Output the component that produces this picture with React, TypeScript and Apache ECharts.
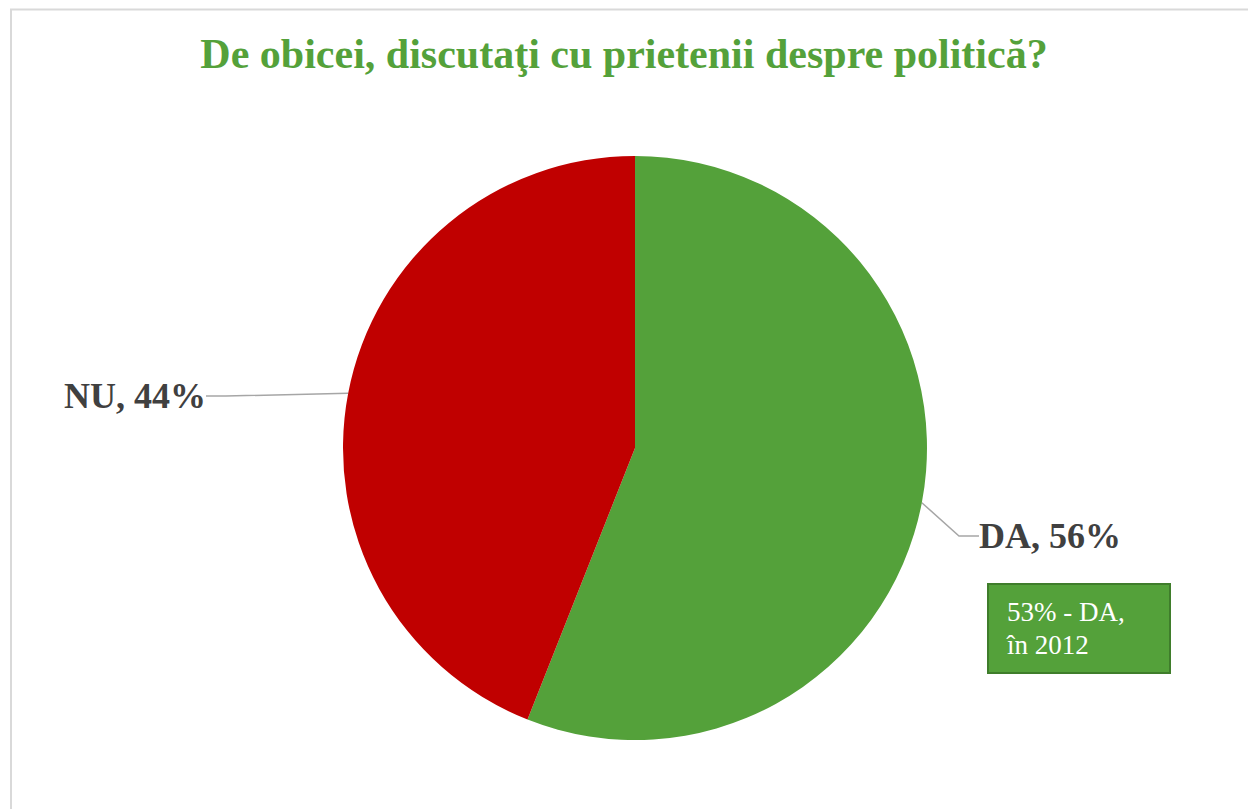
import React, { useEffect, useRef } from "react";
import * as echarts from "echarts";

const titleText = "De obicei, discutaţi cu prietenii despre politică?";
const categories = ["DA", "NU"];
const values = [56, 44];
const colors = ["#54A13A", "#C00000"];
const noteLines = ["53% - DA,", "în 2012"];

export default function App() {
  const ref = useRef<HTMLDivElement>(null);
  useEffect(() => {
    if (!ref.current) return;
    const chart = echarts.init(ref.current, null, { renderer: "svg" });
    const labelPos: Record<string, any> = {
      DA: { x: 979, y: 536, align: "left", verticalAlign: "middle" },
      NU: { x: 206, y: 396, align: "right", verticalAlign: "middle" },
    };
    chart.setOption({
      animation: false,
      backgroundColor: "#ffffff",
      title: {
        text: titleText,
        left: "center",
        top: 28,
        textStyle: {
          fontFamily: "Liberation Serif",
          fontWeight: "bold",
          fontSize: 42,
          color: "#54A13A",
        },
      },
      graphic: [
        {
          type: "rect",
          shape: { x: 11, y: 9.5, width: 1400, height: 1000 },
          style: { fill: "none", stroke: "#D9D9D9", lineWidth: 2 },
          silent: true,
        },
        {
          type: "group",
          children: [
            {
              type: "rect",
              shape: { x: 988, y: 584, width: 182, height: 89 },
              style: { fill: "#54A13A", stroke: "#3F7D2B", lineWidth: 2 },
            },
            {
              type: "text",
              x: 1007,
              y: 595,
              style: {
                text: noteLines.join("\n"),
                fill: "#ffffff",
                font: "27px 'Liberation Serif'",
                lineHeight: 33,
              },
            },
          ],
        },
      ],
      series: [
        {
          type: "pie",
          center: [635, 448],
          radius: 292,
          startAngle: 90,
          clockwise: true,
          data: categories.map((c, i) => ({
            name: c,
            value: values[i],
            itemStyle: { color: colors[i] },
          })),
          label: {
            show: true,
            position: "outside",
            formatter: (p: any) => `${p.name}, ${p.value}%`,
            fontFamily: "Liberation Serif",
            fontWeight: "bold",
            fontSize: 36,
            color: "#404040",
          },
          labelLine: {
            show: true,
            length: 20,
            length2: 20,
            lineStyle: { color: "#A6A6A6", width: 1.5 },
          },
          labelLayout: (params: any) => {
            const name = categories[params.dataIndex];
            return labelPos[name];
          },
        },
      ],
    });
    return () => chart.dispose();
  }, []);
  return (
    <div
      ref={ref}
      style={{ position: "absolute", left: 0, top: 0, width: 1248, height: 809 }}
    />
  );
}
